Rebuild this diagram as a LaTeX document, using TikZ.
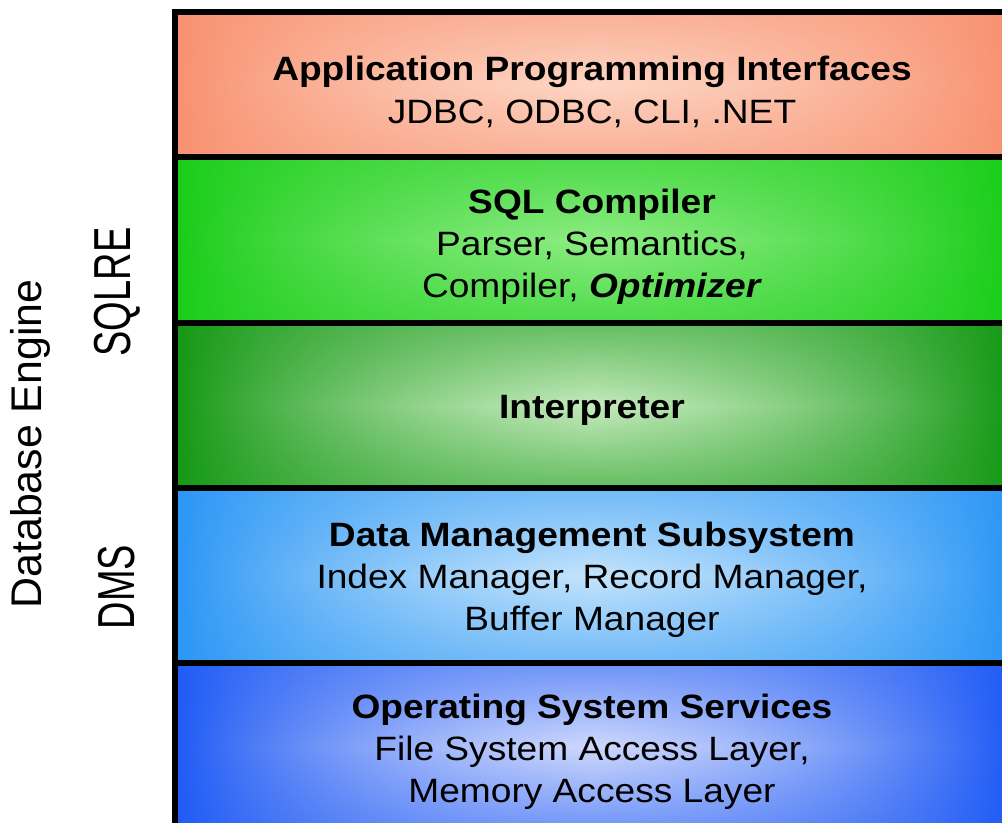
\documentclass[tikz,border=0pt]{standalone}
\usepackage{fontspec}
\setmainfont{Liberation Sans}
\usetikzlibrary{positioning,fadings}

\definecolor{apiedge}{RGB}{248,145,112}
\definecolor{apimid}{RGB}{253,214,196}
\definecolor{sqledge}{RGB}{25,205,25}
\definecolor{sqlmid}{RGB}{140,236,130}
\definecolor{intedge}{RGB}{20,152,20}
\definecolor{intmid}{RGB}{196,234,188}
\definecolor{dmsedge}{RGB}{42,150,245}
\definecolor{dmsmid}{RGB}{196,228,252}
\definecolor{ossedge}{RGB}{30,90,245}
\definecolor{ossmid}{RGB}{206,216,252}

\tikzfading[name=midglow,left color=transparent!100,right color=transparent!100,middle color=transparent!45]

\begin{document}
\begin{tikzpicture}[x=0.025cm,y=-0.025cm,
  sep/.style={line width=3.6pt},
  txt/.style={align=center,xscale=1.1,font=\fontsize{24}{30}\selectfont},
  side/.style={rotate=90,font=\fontsize{30.5}{36}\selectfont},
  tall/.style={rotate=90,xscale=0.73,font=\fontsize{37}{42}\selectfont}]
\useasboundingbox (0,0) rectangle (1002,823);
\clip (0,0) rectangle (1002,823);
% layers
\shade[left color=apiedge,right color=apiedge,middle color=apimid] (175,12) rectangle (1010,157);
\shade[top color=apiedge,bottom color=apiedge,middle color=apimid,path fading=midglow] (175,12) rectangle (1010,157);
\shade[left color=sqledge,right color=sqledge,middle color=sqlmid] (175,157) rectangle (1010,323);
\shade[top color=sqledge,bottom color=sqledge,middle color=sqlmid,path fading=midglow] (175,157) rectangle (1010,323);
\shade[left color=intedge,right color=intedge,middle color=intmid] (175,323) rectangle (1010,488);
\shade[top color=intedge,bottom color=intedge,middle color=intmid,path fading=midglow] (175,323) rectangle (1010,488);
\shade[left color=dmsedge,right color=dmsedge,middle color=dmsmid] (175,488) rectangle (1010,663);
\shade[top color=dmsedge,bottom color=dmsedge,middle color=dmsmid,path fading=midglow] (175,488) rectangle (1010,663);
\shade[left color=ossedge,right color=ossedge,middle color=ossmid] (175,663) rectangle (1010,830);
\shade[top color=ossedge,bottom color=ossedge,middle color=ossmid,path fading=midglow] (175,663) rectangle (1010,830);
\draw[sep] (1010,12) -- (175,12) -- (175,830);
\draw[sep] (175,157) -- (1010,157);
\draw[sep] (175,323) -- (1010,323);
\draw[sep] (175,488) -- (1010,488);
\draw[sep] (175,663) -- (1010,663);
% texts
\node[txt] (api) at (592,92) {\textbf{Application Programming Interfaces}\\JDBC, ODBC, CLI, .NET};
\node[txt] (sql) at (592,247) {\textbf{SQL Compiler}\\Parser, Semantics,\\Compiler, \textbf{\textit{Optimizer}}};
\node[txt] (interp) at (592,410) {\textbf{Interpreter}};
\node[txt] (dms) at (592,580) {\textbf{Data Management Subsystem}\\Index Manager, Record Manager,\\Buffer Manager};
\node[txt] (oss) at (592,752) {\textbf{Operating System Services}\\File System Access Layer,\\Memory Access Layer};
\node[side] (engine) at (30,444) {Database Engine};
\node[tall] (sqlre) at (117,292) {SQLRE};
\node[tall] (dmslb) at (117,587) {DMS};
\end{tikzpicture}
\end{document}
